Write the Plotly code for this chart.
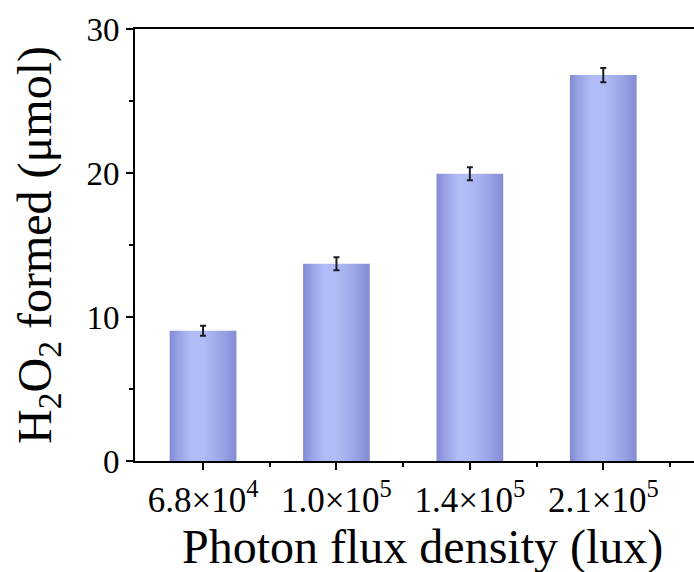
import plotly.graph_objects as go

# Data
categories = ["6.8×10<sup>4</sup>", "1.0×10<sup>5</sup>", "1.4×10<sup>5</sup>", "2.1×10<sup>5</sup>"]
h2o2_umol = [9.05, 13.7, 19.95, 26.8]
h2o2_err = [0.35, 0.45, 0.45, 0.5]

x_title = "Photon flux density (lux)"
y_title = "H<sub>2</sub>O<sub>2</sub> formed (μmol)"

BAR_W = 0.5
FONT = "Liberation Serif, Times New Roman, serif"
grad = [[0.0, "#8189d4"], [0.12, "#97a1e4"], [0.32, "#b2bdf7"], [0.5, "#b1bcf6"],
        [0.72, "#a0aaea"], [0.9, "#8e97dd"], [1.0, "#838bd3"]]

fig = go.Figure()
for i, v in enumerate(h2o2_umol):
    x0, x1 = i - BAR_W / 2, i + BAR_W / 2
    fig.add_trace(go.Scatter(
        x=[x0, x0, x1, x1, x0], y=[0, v, v, 0, 0],
        mode="lines", line=dict(width=0), fill="toself",
        fillgradient=dict(type="horizontal", colorscale=grad, start=x0, stop=x1),
        hoverinfo="skip", showlegend=False))

fig.add_trace(go.Scatter(
    x=list(range(len(h2o2_umol))), y=h2o2_umol, mode="markers",
    marker=dict(size=1, opacity=0),
    error_y=dict(type="data", array=h2o2_err, visible=True, color="#1c1c28", thickness=2, width=3),
    hoverinfo="skip", showlegend=False))

fig.update_layout(
    width=694, height=572,
    margin=dict(l=135, r=0, t=29, b=111),
    paper_bgcolor="white", plot_bgcolor="white",
    font=dict(family=FONT, color="black"),
    showlegend=False,
    annotations=[dict(
        text=x_title, xref="paper", yref="paper", x=0.514, y=-0.198,
        xanchor="center", yanchor="middle", showarrow=False,
        font=dict(size=48, family=FONT, color="black"))],
)
fig.update_xaxes(
    range=[-0.51, 3.68],
    tickmode="array", tickvals=list(range(len(categories))), ticktext=categories,
    ticks="outside", ticklen=7, tickwidth=2, tickcolor="black",
    minor=dict(tickmode="array", tickvals=[0.5, 1.5, 2.5, 3.5], ticks="outside",
               ticklen=4, tickwidth=2, tickcolor="black"),
    showline=True, linewidth=2, linecolor="black", mirror=True,
    showgrid=False, zeroline=False,
    tickfont=dict(size=35, family=FONT),
)
fig.update_yaxes(
    range=[0, 30], tickmode="linear", tick0=0, dtick=10,
    ticks="outside", ticklen=7, tickwidth=2, tickcolor="black",
    minor=dict(dtick=5, ticks="outside", ticklen=4, tickwidth=2, tickcolor="black"),
    showline=True, linewidth=2, linecolor="black",
    showgrid=False, zeroline=False,
    tickfont=dict(size=33, family=FONT),
    title=dict(text=y_title, font=dict(size=48, family=FONT), standoff=20),
)

fig.write_html("out.html")
